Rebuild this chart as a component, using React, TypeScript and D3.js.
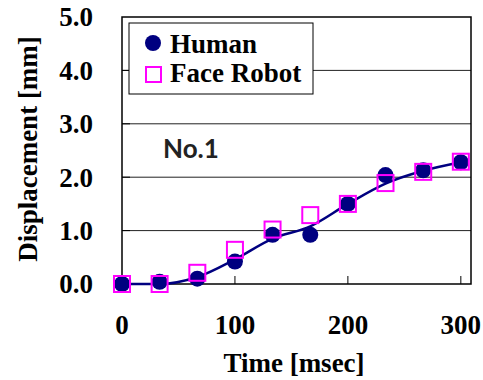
import React from "react";
import * as d3 from "d3";

// time axis (msec)
const times = [0, 33.3, 66.7, 100, 133.3, 166.7, 200, 233.3, 266.7, 300];
const human = [0, 0.04, 0.1, 0.42, 0.92, 0.92, 1.5, 2.04, 2.13, 2.28];
const faceRobot = [0, 0, 0.21, 0.64, 1.02, 1.29, 1.5, 1.89, 2.1, 2.29];
const fitLine = [0, 0, 0.13, 0.46, 0.85, 1.08, 1.5, 1.88, 2.12, 2.28];

const xTicks = [0, 100, 200, 300];
const yTicks = [0, 1, 2, 3, 4, 5];
const legendNames = ["Human", "Face Robot"];

const W = 483, H = 380;
const NAVY = "#000080";
const MAGENTA = "#ff00ff";
const serif = "'Liberation Serif', 'Times New Roman', serif";

export default function App() {
  const x = d3.scaleLinear().domain([0, 309]).range([122, 471]);
  const y = d3.scaleLinear().domain([0, 5]).range([284, 17]);

  const line = d3
    .line<number>()
    .x((d, i) => x(times[i]))
    .y(d => y(d))
    .curve(d3.curveMonotoneX);

  const left = x.range()[0], right = x.range()[1];
  const top = y.range()[1], bottom = y.range()[0];

  return (
    <svg width={W} height={H} style={{ position: "absolute", left: 0, top: 0, background: "#fff" }}>
      {/* grid lines */}
      {yTicks.slice(1, -1).map(t => (
        <line key={"g" + t} x1={left} x2={right} y1={y(t)} y2={y(t)} stroke="#222" strokeWidth={1} />
      ))}
      {/* ticks, inward */}
      {xTicks.slice(1).map(t => (
        <line key={"xt" + t} x1={x(t)} x2={x(t)} y1={bottom} y2={bottom - 8} stroke="#000" strokeWidth={1} />
      ))}
      {yTicks.slice(1, -1).map(t => (
        <line key={"yt" + t} x1={left} x2={left + 8} y1={y(t)} y2={y(t)} stroke="#000" strokeWidth={1} />
      ))}
      <rect x={left} y={top} width={right - left} height={bottom - top} fill="none" stroke="#000" strokeWidth={1.5} />

      {/* y tick labels */}
      {yTicks.map(t => (
        <text key={"yl" + t} x={93} y={y(t)} dy="0.35em" textAnchor="end"
          fontFamily={serif} fontWeight="bold" fontSize={27}>{t.toFixed(1)}</text>
      ))}
      {/* x tick labels */}
      {xTicks.map(t => (
        <text key={"xl" + t} x={x(t)} y={334} textAnchor="middle"
          fontFamily={serif} fontWeight="bold" fontSize={27}>{t}</text>
      ))}

      <text x={294} y={372} textAnchor="middle" fontFamily={serif} fontWeight="bold" fontSize={27}>Time [msec]</text>
      <text transform={`translate(37,149) rotate(-90)`} textAnchor="middle"
        fontFamily={serif} fontWeight="bold" fontSize={27}>Displacement [mm]</text>

      <text x={163} y={158} fontFamily="Lato, 'Open Sans', sans-serif" fontWeight="bold" fontSize={26} fill="#222">No.1</text>

      {/* fitted line */}
      <path d={line(fitLine) || ""} fill="none" stroke={NAVY} strokeWidth={2.5} />

      {human.map((v, i) => (
        <circle key={"h" + i} cx={x(times[i])} cy={y(v)} r={8} fill={NAVY} />
      ))}
      {faceRobot.map((v, i) => (
        <rect key={"r" + i} x={x(times[i]) - 8} y={y(v) - 8} width={16} height={16}
          fill="none" stroke={MAGENTA} strokeWidth={2} />
      ))}

      {/* legend */}
      <rect x={129} y={23} width={184} height={71} fill="#fff" stroke="#000" strokeWidth={1} />
      <circle cx={153} cy={43} r={8} fill={NAVY} />
      <rect x={146} y={67} width={15} height={15} fill="none" stroke={MAGENTA} strokeWidth={2} />
      <text x={170} y={53} fontFamily={serif} fontWeight="bold" fontSize={27}>{legendNames[0]}</text>
      <text x={170} y={82} fontFamily={serif} fontWeight="bold" fontSize={27}>{legendNames[1]}</text>
    </svg>
  );
}
